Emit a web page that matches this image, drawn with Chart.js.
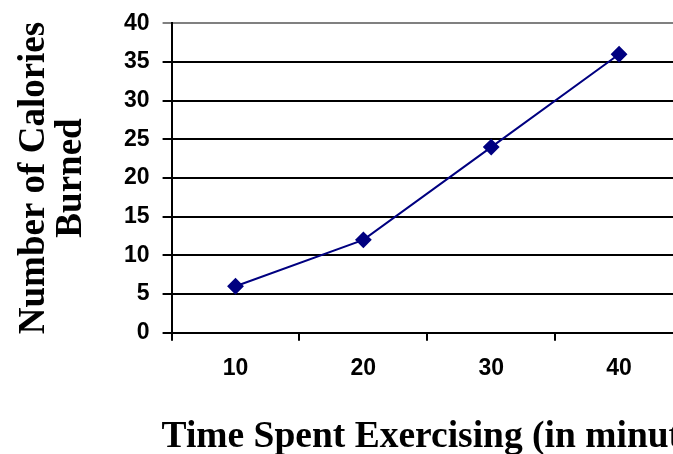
<!DOCTYPE html>
<html>
<head>
<meta charset="utf-8">
<script src="https://cdn.jsdelivr.net/npm/chart.js@4"></script>
<style>
  html, body { margin: 0; padding: 0; background: #fff; overflow: hidden; }
  #wrap { position: absolute; left: 0; top: 0; width: 692px; height: 454px; }
</style>
</head>
<body>
<div id="wrap"><canvas id="chart"></canvas></div>
<script>
const minutes = ['10', '20', '30', '40'];
const calories = [6, 12, 24, 36];
const yTitle = ['Number of Calories', 'Burned'];
const xTitle = 'Time Spent Exercising (in minutes)';

const xTickFont = { family: '"Liberation Sans", Arial, sans-serif', size: 23, weight: 'bold', lineHeight: 1.2 };
const yTickFont = { family: '"Liberation Sans", Arial, sans-serif', size: 23, weight: 'bold', lineHeight: 0.9 };
const yTitleFont = { family: '"Liberation Serif", "Times New Roman", serif', size: 37, weight: 'bold', lineHeight: 1.0 };
const xTitleFont = { family: '"Liberation Serif", "Times New Roman", serif', size: 37.5, weight: 'bold', lineHeight: 0.9 };

// the x title runs past the right edge of the picture, so draw it unsqueezed
const xTitlePlugin = {
  id: 'xTitle',
  afterDraw(chart) {
    const c = chart.ctx;
    const xs = chart.scales.x;
    c.save();
    c.font = `bold ${xTitleFont.size}px ${xTitleFont.family}`;
    c.fillStyle = '#000';
    c.textAlign = 'left';
    c.textBaseline = 'middle';
    c.fillText(xTitle, chart.chartArea.left - 10, xs.bottom - xTitleFont.size * xTitleFont.lineHeight / 2);
    c.restore();
  }
};

const ctx = document.getElementById('chart').getContext('2d');
new Chart(ctx, {
  type: 'line',
  data: {
    labels: minutes,
    datasets: [{
      data: calories,
      borderColor: '#000080',
      backgroundColor: '#000080',
      borderWidth: 2,
      pointStyle: 'rectRot',
      pointRadius: 7,
      pointHoverRadius: 7,
      tension: 0,
      fill: false
    }]
  },
  plugins: [xTitlePlugin],
  options: {
    responsive: true,
    maintainAspectRatio: false,
    animation: false,
    plugins: { legend: { display: false }, tooltip: { enabled: false } },
    layout: { padding: { left: 0, right: 8, top: 0, bottom: 0 } },
    scales: {
      x: {
        offset: true,
        grid: { offset: true, drawOnChartArea: false, color: '#000', lineWidth: 2, tickLength: 8 },
        border: { color: '#000', width: 2 },
        ticks: { color: '#000', font: xTickFont, padding: 14 },
        title: { display: true, text: xTitle, color: 'rgba(0,0,0,0)', font: xTitleFont, padding: { top: 24, bottom: 0 } }
      },
      y: {
        min: 0,
        max: 40,
        ticks: { stepSize: 5, color: '#000', font: yTickFont, padding: 13 },
        grid: {
          color: c => c.tick && c.tick.value === 40 ? '#808080' : '#000',
          lineWidth: 2,
          tickLength: 9
        },
        border: { color: '#000', width: 2 },
        title: { display: true, text: yTitle, color: '#000', font: yTitleFont, padding: { top: 16, bottom: 21 } }
      }
    }
  }
});
</script>
</body>
</html>
